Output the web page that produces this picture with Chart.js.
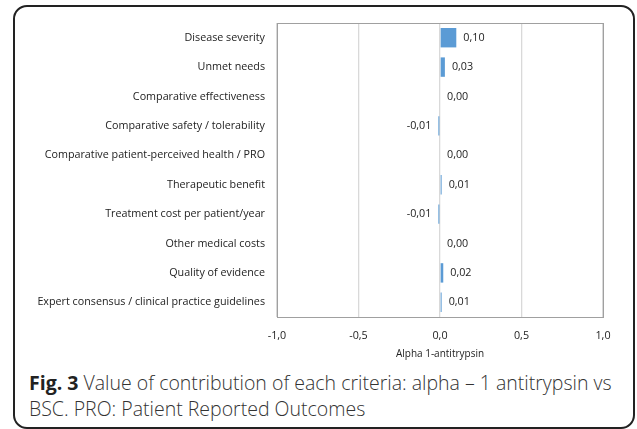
<!DOCTYPE html>
<html>
<head>
<meta charset="utf-8">
<script src="https://cdn.jsdelivr.net/npm/chart.js@4"></script>
<style>
  body { margin: 0; background: #fff; width: 637px; height: 429px; overflow: hidden; position: relative; }
  #frame { position: absolute; left: 13px; top: 5px; width: 622px; height: 424px; border: 2px solid #222; border-radius: 14px; box-sizing: border-box; }
  #wrap { position: absolute; left: 0; top: 0; width: 637px; height: 362px; }
  #caption { position: absolute; left: 29px; top: 370px; width: 600px; font-family: "Open Sans", sans-serif; font-weight: 300; font-size: 19.5px; line-height: 26px; color: #333; white-space: nowrap; }
  #caption b { font-weight: 700; color: #222; }
</style>
</head>
<body>
<div id="frame"></div>
<div id="wrap"><canvas id="chart"></canvas></div>
<div id="caption"><b>Fig. 3</b> Value of contribution of each criteria: alpha – 1 antitrypsin vs<br>BSC. PRO: Patient Reported Outcomes</div>
<script>
// criteria and their contribution values
const criteria = [
    'Disease severity',
    'Unmet needs',
    'Comparative effectiveness',
    'Comparative safety / tolerability',
    'Comparative patient-perceived health / PRO',
    'Therapeutic benefit',
    'Treatment cost per patient/year',
    'Other medical costs',
    'Quality of evidence',
    'Expert consensus / clinical practice guidelines'
];
const values = [0.10, 0.03, 0.00, -0.01, 0.00, 0.01, -0.01, 0.00, 0.02, 0.01];
const xTicks = [-1.0, -0.5, 0.0, 0.5, 1.0];
const axisTitle = 'Alpha 1-antitrypsin';

const fmt = (v, d) => v.toFixed(d).replace('.', ',');

// value labels next to bar ends
const valueLabels = {
    id: 'valueLabels',
    afterDatasetsDraw(chart) {
        const ctx = chart.ctx;
        const meta = chart.getDatasetMeta(0);
        ctx.save();
        ctx.font = '10.75px "Open Sans"';
        ctx.fillStyle = '#222';
        ctx.textBaseline = 'middle';
        meta.data.forEach((bar, i) => {
            const v = values[i];
            if (v < 0) {
                ctx.textAlign = 'right';
                ctx.fillText(fmt(v, 2), bar.x - 7, bar.y);
            } else {
                ctx.textAlign = 'left';
                ctx.fillText(fmt(v, 2), bar.x + 7, bar.y);
            }
        });
        ctx.restore();
    }
};

// grey box round the plot area
const plotBox = {
    id: 'plotBox',
    afterDraw(chart) {
        const a = chart.chartArea;
        const ctx = chart.ctx;
        ctx.save();
        ctx.strokeStyle = '#a0a0a0';
        ctx.lineWidth = 1;
        ctx.strokeRect(a.left + 0.5, a.top + 0.5, a.right - a.left, a.bottom - a.top);
        ctx.restore();
    }
};

new Chart(document.getElementById('chart'), {
    type: 'bar',
    data: {
        labels: criteria,
        datasets: [{
            data: values,
            backgroundColor: '#5b9bd5',
            categoryPercentage: 0.66,
            barPercentage: 1.0
        }]
    },
    options: {
        indexAxis: 'y',
        responsive: true,
        maintainAspectRatio: false,
        animation: false,
        layout: { padding: { top: 23, right: 34, left: 0, bottom: 0 } },
        plugins: { legend: { display: false }, tooltip: { enabled: false } },
        scales: {
            x: {
                min: -1, max: 1,
                afterBuildTicks: s => { s.ticks = xTicks.map(v => ({ value: v })); },
                afterFit: s => { s.height = 45; },
                ticks: {
                    callback: v => fmt(v, 1),
                    color: '#222',
                    font: { family: 'Open Sans', size: 10.75 },
                    padding: 12
                },
                grid: { color: '#d9d9d9', lineWidth: 1.3, drawTicks: false },
                border: { display: false },
                title: {
                    display: true, text: axisTitle, color: '#222',
                    font: { family: 'Open Sans', size: 10 },
                    padding: { top: 2, bottom: 2 }
                }
            },
            y: {
                afterFit: s => { s.width = 277; },
                ticks: {
                    color: '#222',
                    font: { family: 'Open Sans', size: 10.75 },
                    padding: 12
                },
                grid: { display: false, drawTicks: false },
                border: { display: false }
            }
        }
    },
    plugins: [valueLabels, plotBox]
});
</script>
</body>
</html>
